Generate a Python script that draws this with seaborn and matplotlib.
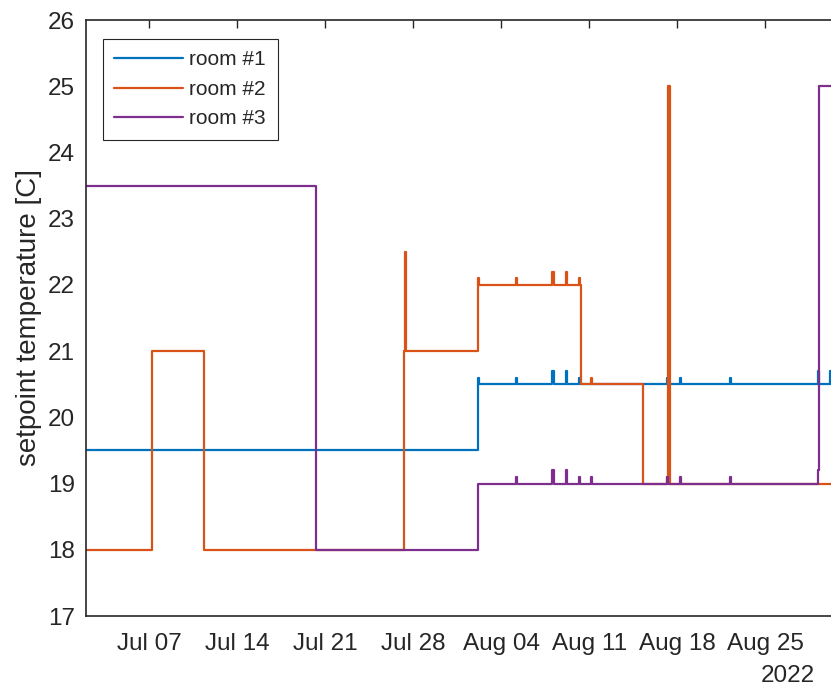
import matplotlib
matplotlib.use("Agg")
import matplotlib.pyplot as plt
import matplotlib.dates as mdates
import pandas as pd
import seaborn as sns

# ---- data (change points; values hold until next change) ----
room1_times = ["2022-07-02 00:00", "2022-08-02 03:00", "2022-08-02 05:00",
               "2022-08-05 04:00", "2022-08-05 06:00", "2022-08-08 02:00", "2022-08-08 05:00",
               "2022-08-09 03:00", "2022-08-09 05:00", "2022-08-10 04:00", "2022-08-10 06:00",
               "2022-08-17 04:00", "2022-08-17 06:00", "2022-08-18 05:00", "2022-08-18 07:00",
               "2022-08-22 04:00", "2022-08-22 06:00", "2022-08-29 04:00", "2022-08-29 06:00",
               "2022-08-30 03:00", "2022-08-30 05:00", "2022-08-31 00:00"]
room1_values = [19.5, 20.6, 20.5,
                20.6, 20.5, 20.7, 20.5,
                20.7, 20.5, 20.6, 20.5,
                20.6, 20.5, 20.6, 20.5,
                20.6, 20.5, 20.7, 20.5,
                20.7, 20.5, 20.5]

room2_times = ["2022-07-02 00:00", "2022-07-07 05:00", "2022-07-11 10:00",
               "2022-07-27 06:00", "2022-07-27 09:00", "2022-07-27 11:00",
               "2022-08-02 03:00", "2022-08-02 05:00", "2022-08-05 04:00", "2022-08-05 06:00",
               "2022-08-08 02:00", "2022-08-08 05:00", "2022-08-09 03:00", "2022-08-09 05:00",
               "2022-08-10 04:00", "2022-08-10 06:00", "2022-08-10 08:00",
               "2022-08-11 03:00", "2022-08-11 05:00", "2022-08-15 06:30",
               "2022-08-17 04:00", "2022-08-17 06:00", "2022-08-17 11:00", "2022-08-31 00:00"]
room2_values = [18.0, 21.0, 18.0,
                21.0, 22.5, 21.0,
                22.1, 22.0, 22.1, 22.0,
                22.2, 22.0, 22.2, 22.0,
                22.1, 22.0, 20.5,
                20.6, 20.5, 19.0,
                19.1, 25.0, 19.0, 19.0]

room3_times = ["2022-07-02 00:00", "2022-07-20 06:00", "2022-08-02 03:00",
               "2022-08-05 04:00", "2022-08-05 06:00", "2022-08-08 02:00", "2022-08-08 05:00",
               "2022-08-09 03:00", "2022-08-09 05:00", "2022-08-10 04:00", "2022-08-10 06:00",
               "2022-08-11 03:00", "2022-08-11 05:00", "2022-08-17 04:00", "2022-08-17 06:00",
               "2022-08-18 05:00", "2022-08-18 07:00", "2022-08-22 04:00", "2022-08-22 06:00",
               "2022-08-29 04:00", "2022-08-29 07:00", "2022-08-31 00:00"]
room3_values = [23.5, 18.0, 19.0,
                19.1, 19.0, 19.2, 19.0,
                19.2, 19.0, 19.1, 19.0,
                19.1, 19.0, 19.1, 19.0,
                19.1, 19.0, 19.1, 19.0,
                19.2, 25.0, 25.0]

room_names = ["room #1", "room #2", "room #3"]
room_colors = ["#0072BD", "#D95319", "#7E2F8E"]
y_ticks = [17, 18, 19, 20, 21, 22, 23, 24, 25, 26]

frames = []
for name, t, v in zip(room_names, [room1_times, room2_times, room3_times],
                      [room1_values, room2_values, room3_values]):
    frames.append(pd.DataFrame({"time": pd.to_datetime(t), "value": v, "room": name}))
df = pd.concat(frames, ignore_index=True)

sns.set_style("white")
plt.rcParams["font.family"] = ["Liberation Sans", "DejaVu Sans"]

W, H = 831, 689
fig = plt.figure(figsize=(W / 100, H / 100), dpi=100)
ax = fig.add_axes([86 / W, 73 / H, (836 - 86) / W, 596 / H])

sns.lineplot(data=df, x="time", y="value", hue="room", palette=room_colors,
             hue_order=room_names, estimator=None, sort=False, drawstyle="steps-post",
             linewidth=1.6, ax=ax)

ax.set_xlim(pd.Timestamp("2022-07-02 00:00"), pd.Timestamp("2022-08-30 15:00"))
ax.set_ylim(17, 26)
ax.set_yticks(y_ticks)
ax.xaxis.set_major_locator(mdates.WeekdayLocator(byweekday=mdates.TH))
ax.xaxis.set_major_formatter(mdates.DateFormatter("%b %d"))

dark = "#262626"
for s in ax.spines.values():
    s.set_color(dark)
    s.set_linewidth(1.2)
ax.tick_params(direction="in", top=True, right=False, length=6, width=1.0,
               colors=dark, labelsize=17.5)
ax.tick_params(axis="x", pad=12)
ax.tick_params(axis="y", pad=8)
ax.set_xlabel("")
ax.set_ylabel("setpoint temperature [C]", fontsize=20, color=dark, labelpad=4)

ax.text(815 / W, 2 / H, "2022", transform=fig.transFigure, ha="right",
        va="bottom", fontsize=17.5, color=dark)

leg = ax.legend(loc="upper left", bbox_to_anchor=(17 / 750, 1 - 19 / 596),
                borderaxespad=0, fontsize=15, handlelength=3.3, frameon=True,
                fancybox=False, edgecolor=dark, framealpha=1, borderpad=0.55,
                labelspacing=0.5, handletextpad=0.3)
leg.get_frame().set_linewidth(0.8)

fig.savefig("out.png", dpi=100)
